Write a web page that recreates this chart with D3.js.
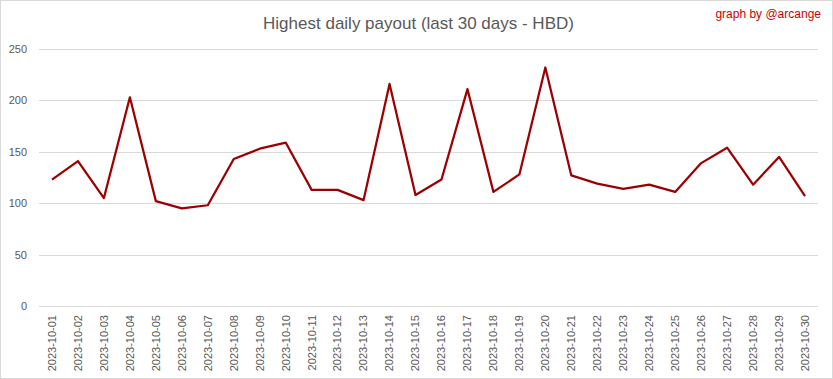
<!DOCTYPE html>
<html>
<head>
<meta charset="utf-8">
<script src="https://cdn.jsdelivr.net/npm/d3@7"></script>
<style>
  html, body { margin: 0; padding: 0; background: #fff; }
  svg { display: block; }
</style>
</head>
<body>
<div id="chart"></div>
<script>
const dates = [
  '2023-10-01', '2023-10-02', '2023-10-03', '2023-10-04', '2023-10-05',
  '2023-10-06', '2023-10-07', '2023-10-08', '2023-10-09', '2023-10-10',
  '2023-10-11', '2023-10-12', '2023-10-13', '2023-10-14', '2023-10-15',
  '2023-10-16', '2023-10-17', '2023-10-18', '2023-10-19', '2023-10-20',
  '2023-10-21', '2023-10-22', '2023-10-23', '2023-10-24', '2023-10-25',
  '2023-10-26', '2023-10-27', '2023-10-28', '2023-10-29', '2023-10-30'
];
const payouts = [
  123, 141, 105, 203, 102, 95, 98, 143, 153, 159,
  113, 113, 103, 216, 108, 123, 211, 111, 128, 232,
  127, 119, 114, 118, 111, 139, 154, 118, 145, 107
];
const yTicks = [0, 50, 100, 150, 200, 250];
const title = 'Highest daily payout (last 30 days - HBD)';
const credit = 'graph by @arcange';

(function () {
  const w = 833, h = 379;
  const margin = { top: 49, right: 15, bottom: 73, left: 39 };

  const svg = d3.select('#chart')
    .append('svg')
    .attr('width', w)
    .attr('height', h);

  // chart frame
  svg.append('rect')
    .attr('x', 0.5).attr('y', 0.5)
    .attr('width', w - 1).attr('height', h - 1)
    .attr('fill', '#fff')
    .attr('stroke', '#d9d9d9');

  const x = d3.scaleBand()
    .domain(dates)
    .range([margin.left, w - margin.right]);

  const y = d3.scaleLinear()
    .domain([0, 250])
    .range([h - margin.bottom, margin.top]);

  // gridlines
  svg.append('g')
    .selectAll('line')
    .data(yTicks)
    .join('line')
    .attr('x1', margin.left)
    .attr('x2', w - margin.right)
    .attr('y1', d => Math.round(y(d)) + 0.5)
    .attr('y2', d => Math.round(y(d)) + 0.5)
    .attr('stroke', '#d9d9d9')
    .attr('stroke-width', 1);

  // y axis labels
  const yAxis = svg.append('g')
    .attr('transform', `translate(${margin.left - 12},0)`)
    .call(d3.axisLeft(y).tickValues(yTicks).tickSize(0).tickPadding(0));
  yAxis.select('.domain').remove();
  yAxis.selectAll('text')
    .attr('fill', '#595959')
    .attr('font-family', 'Liberation Sans, Arial, sans-serif')
    .attr('font-size', 11);

  // x axis labels
  const xAxis = svg.append('g')
    .attr('transform', `translate(0,${h - margin.bottom})`)
    .call(d3.axisBottom(x).tickSize(0).tickPadding(0));
  xAxis.select('.domain').remove();
  xAxis.selectAll('text')
    .attr('fill', '#595959')
    .attr('font-family', 'Liberation Sans, Arial, sans-serif')
    .attr('font-size', 11)
    .attr('text-anchor', 'end')
    .attr('dy', '0.35em')
    .attr('transform', 'translate(0,9) rotate(-90)');

  // line
  const line = d3.line()
    .x((d, i) => x(dates[i]) + x.bandwidth() / 2)
    .y(d => y(d));

  svg.append('path')
    .datum(payouts)
    .attr('fill', 'none')
    .attr('stroke', '#9c0000')
    .attr('stroke-width', 2.25)
    .attr('stroke-linejoin', 'round')
    .attr('d', line);

  // title
  svg.append('text')
    .attr('x', w / 2 + 2)
    .attr('y', 29)
    .attr('text-anchor', 'middle')
    .attr('fill', '#595959')
    .attr('font-family', 'Liberation Sans, Arial, sans-serif')
    .attr('font-size', 17)
    .text(title);

  svg.append('text')
    .attr('x', w - 12)
    .attr('y', 18)
    .attr('text-anchor', 'end')
    .attr('fill', '#cc0000')
    .attr('font-family', 'Liberation Sans, Arial, sans-serif')
    .attr('font-size', 12)
    .text(credit);
})();
</script>
</body>
</html>
